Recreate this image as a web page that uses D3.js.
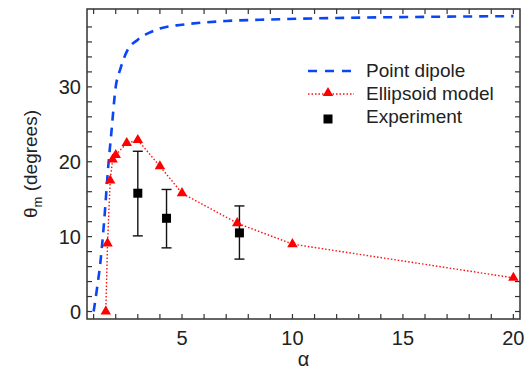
<!DOCTYPE html>
<html>
<head>
<meta charset="utf-8">
<script src="https://cdn.jsdelivr.net/npm/d3@7"></script>
<style>
  body { margin: 0; background: #fff; }
  text { font-family: "Liberation Sans", Arial, sans-serif; fill: #222; }
</style>
</head>
<body>
<div id="chart"></div>
<script>
// Point dipole (dashed blue curve)
const dipoleAlpha = [1.0, 1.15, 1.3, 1.48, 1.66, 1.8, 2.0, 2.2, 2.5, 3.0, 3.5, 4.0, 5.0, 6.0, 7.0, 9.0, 12, 16, 20];
const dipoleTheta = [0, 3.0, 6.4, 12.2, 19.3, 23.8, 30.0, 32.3, 34.7, 36.3, 37.2, 37.8, 38.3, 38.6, 38.8, 39.0, 39.2, 39.35, 39.45];

// Ellipsoid model (red triangles)
const ellAlpha = [1.55, 1.63, 1.75, 1.86, 2.0, 2.5, 3.0, 4.0, 5.0, 7.5, 10, 20];
const ellTheta = [0, 9.1, 17.5, 20.3, 20.9, 22.5, 22.9, 19.4, 15.8, 11.8, 9.0, 4.5];

// Experiment (black squares + error bars)
const expAlpha = [3.0, 4.3, 7.6];
const expTheta = [15.8, 12.45, 10.5];
const expLow = [10.1, 8.5, 7.0];
const expHigh = [21.4, 16.3, 14.1];

const xMajor = [5, 10, 15, 20];
const yMajor = [0, 10, 20, 30];

const W = 528, H = 371;
const margin = { top: 9, right: 8, bottom: 52, left: 87 };

const svg = d3.select("#chart").append("svg")
    .attr("width", W)
    .attr("height", H);

const x = d3.scaleLinear().domain([0.7, 20.3]).range([margin.left, W - margin.right]);
const y = d3.scaleLinear().domain([-1, 40.4]).range([H - margin.bottom, margin.top]);

const x0 = x.range()[0], x1 = x.range()[1];
const y0 = y.range()[0], y1 = y.range()[1];

// ticks (inward on all sides)
const axisCol = "#333";
const tk = 5;
const g = svg.append("g");
d3.range(1, 21).forEach(v => {
    g.append("line").attr("x1", x(v)).attr("x2", x(v)).attr("y1", y0).attr("y2", y0 - tk)
        .attr("stroke", axisCol).attr("stroke-width", 1.2);
    g.append("line").attr("x1", x(v)).attr("x2", x(v)).attr("y1", y1).attr("y2", y1 + tk)
        .attr("stroke", axisCol).attr("stroke-width", 1.2);
});
d3.range(0, 40, 2).forEach(v => {
    g.append("line").attr("x1", x0).attr("x2", x0 + tk).attr("y1", y(v)).attr("y2", y(v))
        .attr("stroke", axisCol).attr("stroke-width", 1.2);
    g.append("line").attr("x1", x1).attr("x2", x1 - tk).attr("y1", y(v)).attr("y2", y(v))
        .attr("stroke", axisCol).attr("stroke-width", 1.2);
});

// frame
svg.append("rect")
    .attr("x", x0).attr("y", y1)
    .attr("width", x1 - x0).attr("height", y0 - y1)
    .attr("fill", "none").attr("stroke", axisCol).attr("stroke-width", 1.5);

// tick labels
svg.selectAll(".xl").data(xMajor).enter().append("text")
    .attr("x", d => x(d)).attr("y", y0 + 26)
    .attr("text-anchor", "middle").style("font-size", "20px")
    .text(d => d);
svg.selectAll(".yl").data(yMajor).enter().append("text")
    .attr("x", x0 - 6).attr("y", d => y(d) + 7)
    .attr("text-anchor", "end").style("font-size", "20px")
    .text(d => d);

// axis titles
svg.append("text")
    .attr("x", (x0 + x1) / 2).attr("y", 366)
    .attr("text-anchor", "middle").style("font-size", "20px")
    .text("α");
const yt = svg.append("text")
    .attr("transform", `translate(37, ${(y0 + y1) / 2}) rotate(-90)`)
    .attr("text-anchor", "middle").style("font-size", "19px");
yt.append("tspan").text("θ");
yt.append("tspan").attr("dy", 5).style("font-size", "13px").text("m");
yt.append("tspan").attr("dy", -5).text(" (degrees)");

// point dipole
const dipole = dipoleAlpha.map((a, i) => ({ a, t: dipoleTheta[i] }));
svg.append("path")
    .datum(dipole)
    .attr("d", d3.line().x(d => x(d.a)).y(d => y(d.t)).curve(d3.curveMonotoneX))
    .attr("fill", "none")
    .attr("stroke", "#0a46f5")
    .attr("stroke-width", 2.6)
    .attr("stroke-dasharray", "9,7");

// ellipsoid model
const ell = ellAlpha.map((a, i) => ({ a, t: ellTheta[i] }));
svg.append("path")
    .datum(ell)
    .attr("d", d3.line().x(d => x(d.a)).y(d => y(d.t)))
    .attr("fill", "none")
    .attr("stroke", "#ff1010")
    .attr("stroke-width", 1.4)
    .attr("stroke-dasharray", "1.5,2");

const tri = d3.symbol().type(d3.symbolTriangle).size(48);

// experiment
const exp = expAlpha.map((a, i) => ({ a, t: expTheta[i], lo: expLow[i], hi: expHigh[i] }));
const eg = svg.selectAll(".exp").data(exp).enter().append("g");
eg.append("line")
    .attr("x1", d => x(d.a)).attr("x2", d => x(d.a))
    .attr("y1", d => y(d.lo)).attr("y2", d => y(d.hi))
    .attr("stroke", "#111").attr("stroke-width", 1.4);
eg.append("line")
    .attr("x1", d => x(d.a) - 5).attr("x2", d => x(d.a) + 5)
    .attr("y1", d => y(d.lo)).attr("y2", d => y(d.lo))
    .attr("stroke", "#111").attr("stroke-width", 1.4);
eg.append("line")
    .attr("x1", d => x(d.a) - 5).attr("x2", d => x(d.a) + 5)
    .attr("y1", d => y(d.hi)).attr("y2", d => y(d.hi))
    .attr("stroke", "#111").attr("stroke-width", 1.4);

svg.selectAll(".tri").data(ell).enter().append("path")
    .attr("transform", d => `translate(${x(d.a)}, ${y(d.t)})`)
    .attr("d", tri)
    .attr("fill", "#ff0000");

eg.append("rect")
    .attr("x", d => x(d.a) - 4.5).attr("y", d => y(d.t) - 4.5)
    .attr("width", 9).attr("height", 9)
    .attr("fill", "#000");

// legend
const lg = svg.append("g");
lg.append("line").attr("x1", 308).attr("x2", 354).attr("y1", 71).attr("y2", 71)
    .attr("stroke", "#0a46f5").attr("stroke-width", 2.6).attr("stroke-dasharray", "9,8");
lg.append("text").attr("x", 366).attr("y", 77).style("font-size", "19px").text("Point dipole");

lg.append("line").attr("x1", 308).attr("x2", 354).attr("y1", 94).attr("y2", 94)
    .attr("stroke", "#ff1010").attr("stroke-width", 1.4).attr("stroke-dasharray", "1.5,2");
lg.append("path").attr("transform", "translate(328, 93)").attr("d", tri).attr("fill", "#ff0000");
lg.append("text").attr("x", 366).attr("y", 100).style("font-size", "19px").text("Ellipsoid model");

lg.append("rect").attr("x", 323.5).attr("y", 114.5).attr("width", 9).attr("height", 9).attr("fill", "#000");
lg.append("text").attr("x", 366).attr("y", 123).style("font-size", "19px").text("Experiment");
</script>
</body>
</html>
